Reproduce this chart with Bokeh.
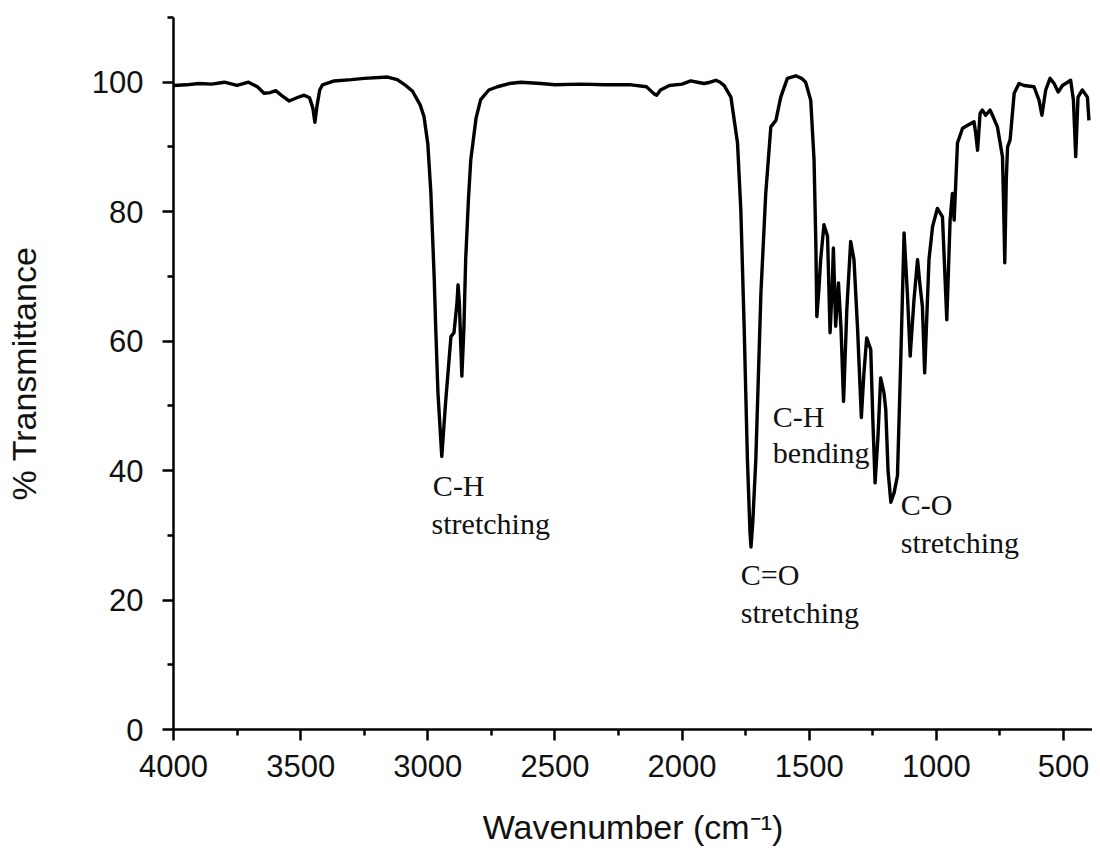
from bokeh.plotting import figure
from bokeh.models import FixedTicker, Range1d, ColumnDataSource
from bokeh.core.properties import value
from bokeh.embed import file_html
from bokeh.resources import INLINE

# Spectrum data (wavenumber cm^-1, % transmittance)
wavenumber = [4000, 3950, 3900, 3850, 3800, 3750, 3705, 3670, 3644, 3620, 3598, 3570, 3545, 3515,
              3486, 3465, 3452, 3444, 3435, 3425, 3414, 3368, 3300, 3250, 3158, 3120, 3090, 3060,
              3030, 3015, 3000, 2988, 2975, 2969, 2960, 2945, 2930, 2909, 2897, 2885, 2881, 2876,
              2866, 2858, 2851, 2840, 2831, 2810, 2792, 2760, 2726, 2680, 2634, 2555, 2500, 2400,
              2300, 2200, 2140, 2110, 2100, 2085, 2050, 2000, 1966, 1940, 1913, 1890, 1867, 1850,
              1835, 1808, 1782, 1769, 1756, 1743, 1733, 1729, 1722, 1710, 1690, 1671, 1651, 1631,
              1612, 1586, 1553, 1530, 1514, 1494, 1481, 1474, 1470, 1462, 1455, 1442, 1428, 1418,
              1410, 1405, 1396, 1385, 1375, 1365, 1352, 1337, 1324, 1310, 1295, 1285, 1274, 1258,
              1250, 1241, 1230, 1219, 1206, 1199, 1190, 1179, 1166, 1153, 1140, 1127, 1114, 1103,
              1088, 1074, 1064, 1055, 1046, 1029, 1015, 996, 976, 959, 946, 937, 930, 917, 897,
              870, 852, 845, 838, 828, 819, 806, 789, 775, 760, 740, 735, 731, 725, 720, 710, 694,
              675, 655, 616, 596, 585, 570, 553, 537, 521, 504, 472, 461, 452, 443, 426, 406, 400]
transmittance = [99.5, 99.6, 99.8, 99.7, 100.0, 99.5, 100.0, 99.3, 98.3, 98.4, 98.7, 97.8, 97.1, 97.6,
                 98.0, 97.6, 96.0, 93.8, 96.5, 98.8, 99.6, 100.2, 100.4, 100.6, 100.8, 100.4, 99.6, 98.6,
                 96.5, 94.7, 90.5, 83.0, 70.0, 62.3, 52.0, 42.2, 50.5, 60.7, 61.3, 66.0, 68.7, 66.0,
                 54.6, 62.0, 72.6, 82.0, 88.0, 94.5, 97.3, 98.8, 99.3, 99.8, 100.0, 99.8, 99.6, 99.7,
                 99.6, 99.6, 99.3, 98.2, 98.0, 98.8, 99.5, 99.7, 100.2, 100.0, 99.8, 100.0, 100.3, 100.0,
                 99.5, 97.7, 90.6, 80.3, 62.3, 41.7, 30.5, 28.2, 32.0, 41.7, 67.4, 82.8, 93.1, 94.1,
                 97.7, 100.6, 101.0, 100.6, 100.0, 97.2, 88.0, 75.1, 63.8, 68.0, 72.6, 78.0, 76.2, 61.3,
                 68.0, 74.4, 62.3, 69.0, 62.0, 50.7, 65.0, 75.4, 72.6, 62.0, 48.2, 55.0, 60.5, 58.7,
                 48.0, 38.1, 45.0, 54.3, 52.0, 49.4, 40.0, 35.1, 36.6, 39.2, 57.1, 76.7, 67.4, 57.7,
                 66.4, 72.6, 68.5, 65.4, 55.1, 72.6, 77.7, 80.5, 79.2, 63.3, 78.7, 82.8, 78.7, 90.6, 92.9,
                 93.5, 93.9, 92.0, 89.5, 95.2, 95.7, 94.9, 95.7, 94.5, 93.1, 88.5, 80.0, 72.1, 85.0, 90.0, 91.1, 98.3,
                 99.8, 99.5, 99.3, 97.2, 94.9, 98.8, 100.6, 99.8, 98.5, 99.5, 100.3, 97.2, 88.5, 97.7, 98.8, 97.7, 94.1]

x_major_ticks = [4000, 3500, 3000, 2500, 2000, 1500, 1000, 500]
x_minor_ticks = [3750, 3250, 2750, 2250, 1750, 1250, 750]
y_major_ticks = [0, 20, 40, 60, 80, 100]
y_minor_ticks = [10, 30, 50, 70, 90, 110]

# Annotations
label_text = ["C-H", "stretching", "C=O", "stretching", "C-H", "bending", "C-O", "stretching"]
label_x = [2980, 2985, 1769, 1769, 1643, 1643, 1140, 1140]
label_y = [37.7, 31.9, 24.0, 18.1, 48.4, 42.8, 34.8, 28.9]

p = figure(width=1092, height=848, x_range=Range1d(4000, 386), y_range=Range1d(0, 110),
           output_backend="svg", toolbar_location=None,
           min_border_left=173, min_border_right=0, min_border_top=17, min_border_bottom=118)
p.outline_line_color = None
p.grid.visible = False
p.background_fill_color = "white"

p.line(wavenumber, transmittance, line_color="black", line_width=3.4, line_join="round")

src = ColumnDataSource(dict(x=label_x, y=label_y, t=label_text))
p.text(x="x", y="y", text="t", source=src, text_font=value("Liberation Serif"),
       text_font_size="30px", text_color="#111111", text_baseline="middle", text_align="left")

for ax in (p.xaxis[0], p.yaxis[0]):
    ax.axis_line_width = 2.5
    ax.axis_line_color = "black"
    ax.major_tick_line_width = 2.5
    ax.minor_tick_line_width = 2.5
    ax.major_tick_in = 0
    ax.minor_tick_in = 0
    ax.major_tick_out = 11
    ax.minor_tick_out = 6
    ax.major_label_text_font = "Liberation Sans"
    ax.major_label_text_font_size = "31px"
    ax.major_label_text_color = "#111111"
    ax.axis_label_text_font = "Liberation Sans"
    ax.axis_label_text_font_size = "34px"
    ax.axis_label_text_font_style = "normal"
    ax.axis_label_text_color = "#111111"

p.xaxis[0].ticker = FixedTicker(ticks=x_major_ticks, minor_ticks=x_minor_ticks)
p.yaxis[0].ticker = FixedTicker(ticks=y_major_ticks, minor_ticks=y_minor_ticks)
p.xaxis[0].axis_label = "Wavenumber (cm\u207b\u00b9)"
p.yaxis[0].axis_label = "% Transmittance"
p.xaxis[0].major_label_standoff = 14
p.yaxis[0].major_label_standoff = 19
p.xaxis[0].axis_label_standoff = 28
p.yaxis[0].axis_label_standoff = 46

open("out.html", "w").write(file_html(p, INLINE))
